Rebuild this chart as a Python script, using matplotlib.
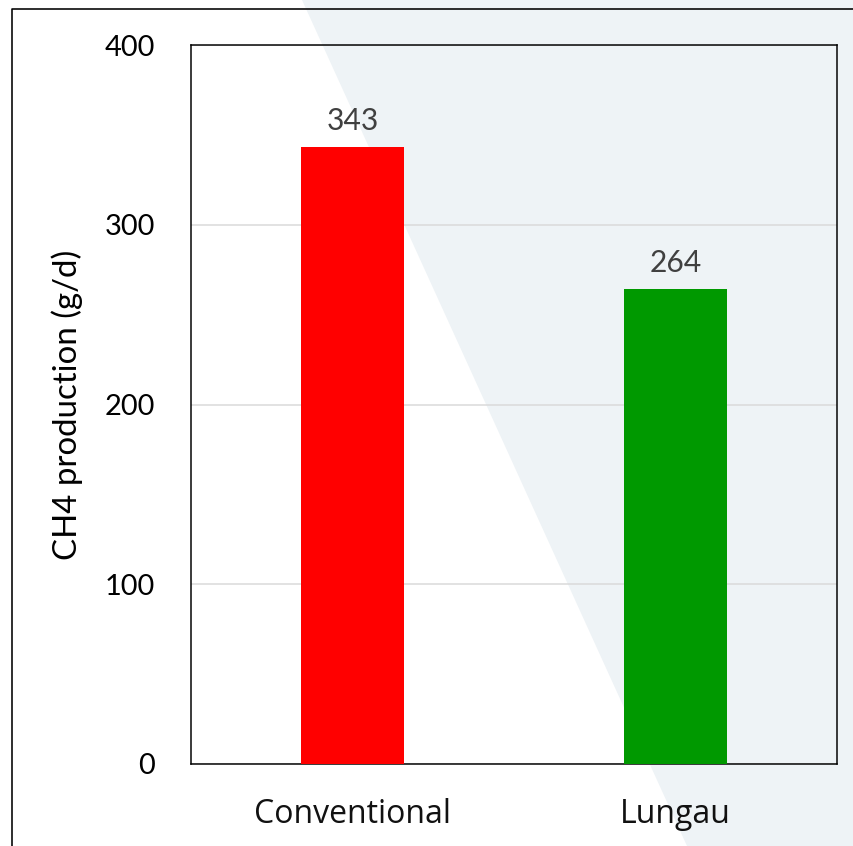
import matplotlib
matplotlib.use("Agg")
import matplotlib.pyplot as plt
from matplotlib.patches import Polygon
from matplotlib.lines import Line2D

categories = ["Conventional", "Lungau"]
ch4_values = [343, 264]
bar_colors = ["#FF0000", "#009900"]
y_ticks = [0, 100, 200, 300, 400]

W, H = 853, 846
DPI = 72


def main():
    plt.rcParams["font.family"] = ["Open Sans", "DejaVu Sans"]
    fig = plt.figure(figsize=(W / DPI, H / DPI), dpi=DPI)
    fig.patch.set_facecolor("white")

    # pale diagonal band behind the chart
    band = Polygon([(302 / W, 1), (1, 1), (1, 0), (687 / W, 0)],
                   closed=True, transform=fig.transFigure,
                   facecolor="#EEF3F6", edgecolor="none", zorder=0)
    fig.patches.append(band)

    # outer frame (left and top edges only show)
    fx, fy = 12 / W, 1 - 9 / H
    fig.lines.append(Line2D([fx, fx, 1.0], [0, fy, fy], transform=fig.transFigure,
                            color="black", lw=1.6, zorder=1))

    ax = fig.add_axes([191 / W, 1 - 764 / H, (837 - 191) / W, (764 - 45) / H])
    ax.set_facecolor("none")
    ax.set_zorder(2)

    x = range(len(categories))
    bars = ax.bar(x, ch4_values, width=0.316, color=bar_colors, zorder=3)
    for b, v in zip(bars, ch4_values):
        ax.annotate(str(v), (b.get_x() + b.get_width() / 2, v),
                    xytext=(0, 12), textcoords="offset points",
                    ha="center", va="bottom", fontsize=30,
                    color="#404040", family="Lato")

    ax.set_xlim(-0.5, 1.5)
    ax.set_ylim(0, 400)
    ax.set_yticks(y_ticks)
    ax.set_yticklabels([str(t) for t in y_ticks], family="Lato", fontsize=29)
    ax.set_xticks(list(x))
    ax.set_xticklabels(categories, fontsize=32, color="#111111")
    ax.tick_params(axis="y", length=0, pad=36)
    ax.tick_params(axis="x", length=0, pad=34)
    ax.yaxis.grid(True, color="#D9D9D9", lw=1.5, zorder=1)
    ax.set_axisbelow(True)
    for s in ax.spines.values():
        s.set_color("black")
        s.set_linewidth(1.5)

    ax.set_ylabel("CH4 production (g/d)", fontsize=33, family="Lato", labelpad=22)

    fig.savefig("out.png", dpi=DPI)


if __name__ == "__main__":
    main()
